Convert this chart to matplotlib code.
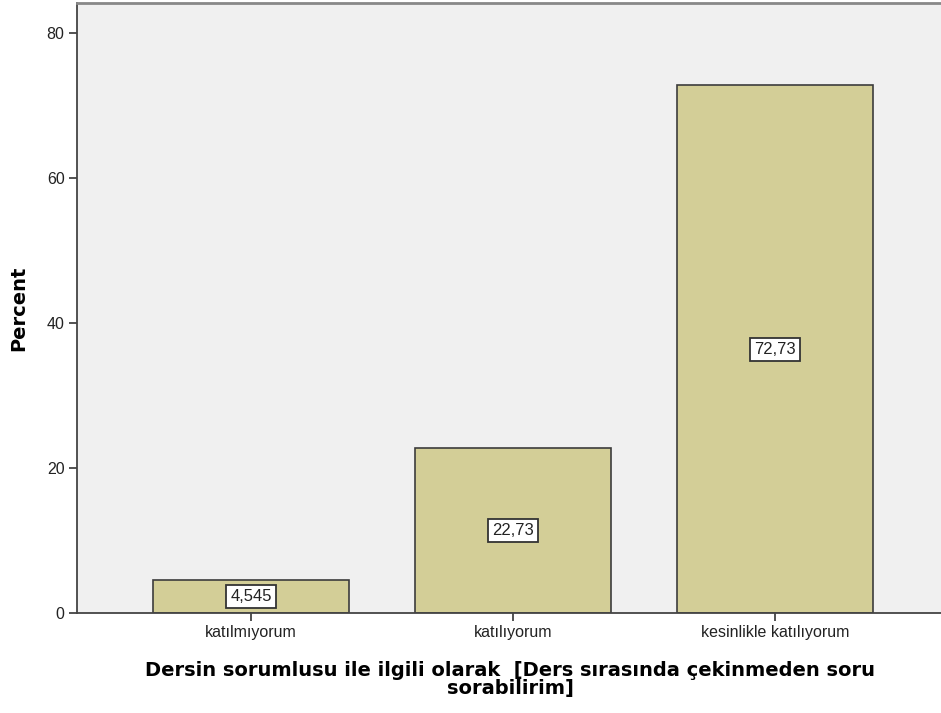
import matplotlib.pyplot as plt

categories = ['katılmıyorum', 'katılıyorum', 'kesinlikle katılıyorum']
percents = [4.545, 22.73, 72.73]
value_labels = ['4,545', '22,73', '72,73']

plt.rcParams['font.family'] = ['Liberation Sans', 'DejaVu Sans']

fig = plt.figure(figsize=(9.41, 7.13), dpi=100)
ax = fig.add_axes([77 / 941, 1 - 613 / 713, 1 - 77 / 941 + 0.002, 610 / 713])
ax.set_facecolor('#F0F0F0')

x = range(len(categories))
ax.bar(x, percents, width=0.75, color='#D3CE97', edgecolor='#3C3C3C', linewidth=1.2, zorder=2)

for xi, v, lab in zip(x, percents, value_labels):
    ax.text(xi, v / 2, lab, ha='center', va='center', fontsize=12, color='#222222', zorder=3,
            bbox=dict(boxstyle='square,pad=0.25', facecolor='white', edgecolor='#333333', linewidth=1.3))

ax.set_xlim(-0.664, 2.64)
ax.set_ylim(0, 84.1)
ax.set_yticks([0, 20, 40, 60, 80])
ax.set_xticks(list(x))
ax.set_xticklabels(categories)
ax.tick_params(axis='both', direction='out', length=6, width=1.2, color='#333333', labelsize=11.5,
               labelcolor='#222222', pad=3)

for side in ['left', 'bottom']:
    ax.spines[side].set_color('#444444')
    ax.spines[side].set_linewidth(1.3)
ax.spines['top'].set_color('#888888')
ax.spines['top'].set_linewidth(2)
ax.spines['right'].set_visible(False)

ax.set_ylabel('Percent', fontsize=14, fontweight='bold', family='DejaVu Sans', labelpad=13)
ax.set_xlabel('Dersin sorumlusu ile ilgili olarak  [Ders sırasında çekinmeden soru\nsorabilirim]',
              fontsize=14, fontweight='bold', family='DejaVu Sans', labelpad=15, linespacing=0.9)

fig.savefig('out.png', dpi=100)
